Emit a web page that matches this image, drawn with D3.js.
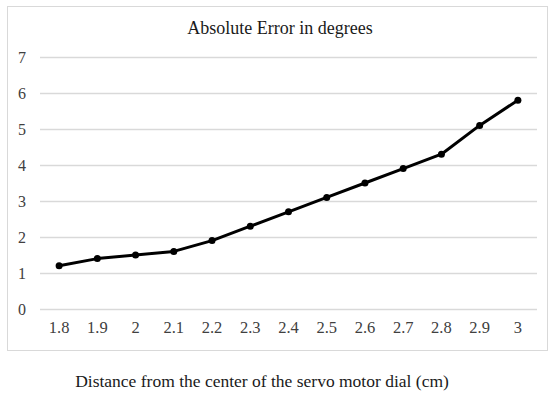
<!DOCTYPE html>
<html>
<head>
<meta charset="utf-8">
<script src="https://cdn.jsdelivr.net/npm/d3@7.9.0/dist/d3.min.js"></script>
<style>
  body { margin: 0; background: #fff; }
  svg { display: block; font-family: "Liberation Serif", "Times New Roman", serif; }
</style>
</head>
<body>
<svg width="549" height="394"></svg>
<script>
// distance from dial centre (cm) and absolute error (degrees)
const distances = ['1.8', '1.9', '2', '2.1', '2.2', '2.3', '2.4', '2.5', '2.6', '2.7', '2.8', '2.9', '3'];
const errors = [1.2, 1.4, 1.5, 1.6, 1.9, 2.3, 2.7, 3.1, 3.5, 3.9, 4.3, 5.1, 5.8];
const yTicks = [0, 1, 2, 3, 4, 5, 6, 7];

const chartTitle = 'Absolute Error in degrees';
const xTitle = 'Distance from the center of the servo motor dial (cm)';

const svg = d3.select('svg');
const plot = { left: 40, right: 537, top: 57, bottom: 309 };

// outer chart frame
svg.append('rect')
  .attr('x', 7.5).attr('y', 6.5)
  .attr('width', 540).attr('height', 344)
  .attr('fill', '#fff')
  .attr('stroke', '#d9d9d9')
  .attr('stroke-width', 1);

const x = d3.scaleBand()
  .domain(distances)
  .range([plot.left, plot.right]);

const y = d3.scaleLinear()
  .domain([0, 7])
  .range([plot.bottom, plot.top]);

// gridlines + y labels
const yAxis = d3.axisLeft(y)
  .tickValues(yTicks)
  .tickSize(-(plot.right - plot.left))
  .tickPadding(14)
  .tickFormat(d3.format('d'));

svg.append('g')
  .attr('transform', `translate(${plot.left},0)`)
  .call(yAxis)
  .call(g => g.select('.domain').remove())
  .call(g => g.selectAll('line').attr('stroke', '#d9d9d9').attr('stroke-width', 1.3))
  .call(g => g.selectAll('text')
    .attr('font-size', 16)
    .attr('fill', '#404040')
    .attr('font-family', '"Liberation Serif", serif'));

// x labels
svg.append('g')
  .attr('transform', `translate(0,${plot.bottom})`)
  .call(d3.axisBottom(x).tickSize(0).tickPadding(12))
  .call(g => g.select('.domain').remove())
  .call(g => g.selectAll('text')
    .attr('font-size', 16.5)
    .attr('fill', '#404040')
    .attr('font-family', '"Liberation Serif", serif'));

const pts = distances.map((d, i) => ({ d, v: errors[i] }));
const cx = d => x(d.d) + x.bandwidth() / 2;

const line = d3.line()
  .x(cx)
  .y(d => y(d.v));

svg.append('path')
  .datum(pts)
  .attr('d', line)
  .attr('fill', 'none')
  .attr('stroke', '#000')
  .attr('stroke-width', 3)
  .attr('stroke-linejoin', 'round');

svg.append('g')
  .selectAll('circle')
  .data(pts)
  .join('circle')
  .attr('cx', cx)
  .attr('cy', d => y(d.v))
  .attr('r', 3.5)
  .attr('fill', '#000');

// titles
svg.append('text')
  .attr('x', 280).attr('y', 34)
  .attr('text-anchor', 'middle')
  .attr('font-size', 18)
  .attr('fill', '#1a1a1a')
  .text(chartTitle);

svg.append('text')
  .attr('x', 262).attr('y', 387)
  .attr('text-anchor', 'middle')
  .attr('font-size', 17.5)
  .attr('fill', '#1a1a1a')
  .text(xTitle);
</script>
</body>
</html>
